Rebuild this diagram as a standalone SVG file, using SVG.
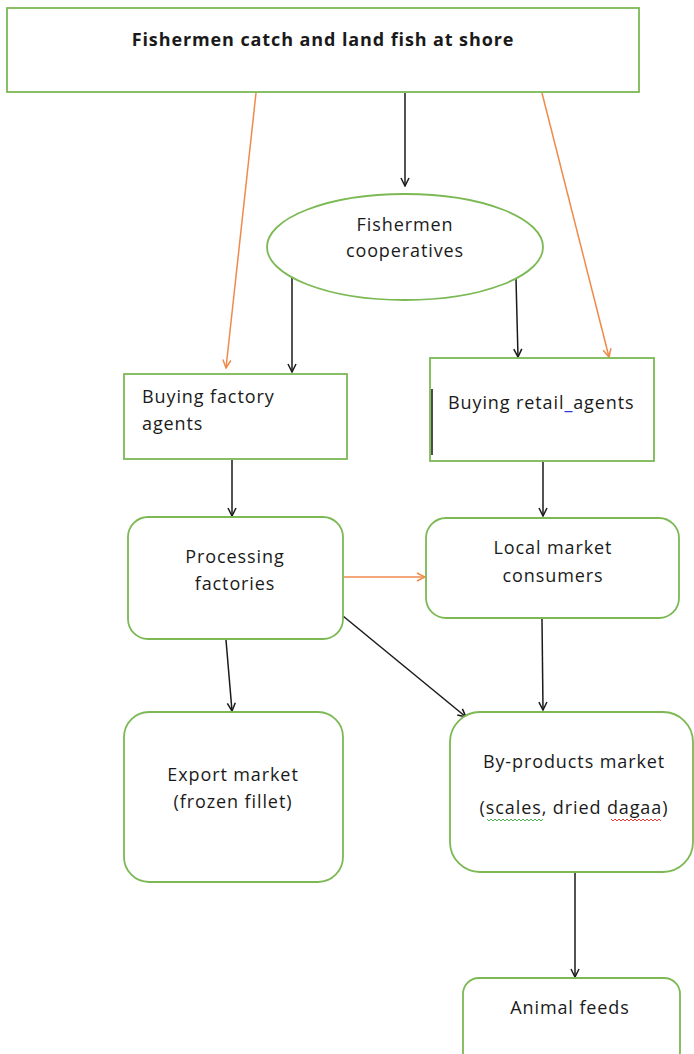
<svg xmlns="http://www.w3.org/2000/svg" width="694" height="1054" viewBox="0 0 694 1054">
<style>
.box{fill:#fff;stroke:#7cb955;stroke-width:1.8}
.t{font-family:"Open Sans","Liberation Sans",sans-serif;font-size:18px;letter-spacing:0.9px;fill:#1a1a1a}
.c{text-anchor:middle}
.blk{stroke:#1a1a1a;stroke-width:1.5;fill:none}
.org{stroke:#f08a4b;stroke-width:1.5;fill:none}
.sq{fill:none;stroke-width:1}
</style>
<defs>
<marker id="ab" markerWidth="10" markerHeight="10" refX="9" refY="5" orient="auto" markerUnits="userSpaceOnUse">
<path d="M1,1 L9,5 L1,9" fill="none" stroke="#1a1a1a" stroke-width="1.5"/>
</marker>
<marker id="ao" markerWidth="10" markerHeight="10" refX="9" refY="5" orient="auto" markerUnits="userSpaceOnUse">
<path d="M1,1 L9,5 L1,9" fill="none" stroke="#f08a4b" stroke-width="1.5"/>
</marker>
</defs>
<rect width="694" height="1054" fill="#fff"/>
<g id="connectors">
<line class="org" x1="256" y1="93" x2="226" y2="368" marker-end="url(#ao)"/>
<line class="blk" x1="405" y1="93" x2="405" y2="186" marker-end="url(#ab)"/>
<line class="org" x1="542" y1="93" x2="609" y2="357" marker-end="url(#ao)"/>
<line class="blk" x1="292" y1="277" x2="292" y2="372" marker-end="url(#ab)"/>
<line class="blk" x1="516" y1="279" x2="518" y2="357" marker-end="url(#ab)"/>
<line class="blk" x1="232" y1="460" x2="232" y2="516" marker-end="url(#ab)"/>
<line class="blk" x1="543" y1="462" x2="543" y2="516" marker-end="url(#ab)"/>
<line class="org" x1="344" y1="577" x2="425" y2="577" marker-end="url(#ao)"/>
<line class="blk" x1="226" y1="640" x2="232" y2="711" marker-end="url(#ab)"/>
<line class="blk" x1="343" y1="616" x2="466" y2="717" marker-end="url(#ab)"/>
<line class="blk" x1="542" y1="619" x2="543" y2="710" marker-end="url(#ab)"/>
<line class="blk" x1="575" y1="873" x2="575" y2="977" marker-end="url(#ab)"/>
</g>
<g id="n-shore">
<rect class="box" x="7" y="8" width="632" height="84"/>
<text class="t c" x="323" y="46" font-weight="bold" font-size="17" letter-spacing="0.7">Fishermen catch and land fish at shore</text>
</g>
<g id="n-coop">
<ellipse class="box" cx="405" cy="247" rx="138" ry="53"/>
<text class="t c" x="405" y="231">Fishermen</text>
<text class="t c" x="405" y="257">cooperatives</text>
</g>
<g id="n-factory-agents">
<rect class="box" x="124" y="374" width="223" height="85"/>
<text class="t" x="142" y="403">Buying factory</text>
<text class="t" x="142" y="430">agents</text>
</g>
<g id="n-retail-agents">
<rect class="box" x="430" y="358" width="224" height="103"/>
<line x1="432" y1="389" x2="432" y2="455" stroke="#111" stroke-width="1.5"/>
<text class="t" x="448" y="409">Buying retail<tspan fill="#2a3ad8">_</tspan>agents</text>
</g>
<g id="n-processing">
<rect class="box" x="128" y="517" width="215" height="122" rx="20"/>
<text class="t c" x="235" y="563">Processing</text>
<text class="t c" x="235" y="590">factories</text>
</g>
<g id="n-local">
<rect class="box" x="426" y="518" width="253" height="100" rx="20"/>
<text class="t c" x="553" y="554">Local market</text>
<text class="t c" x="553" y="582">consumers</text>
</g>
<g id="n-export">
<rect class="box" x="124" y="712" width="219" height="170" rx="25"/>
<text class="t c" x="233" y="781">Export market</text>
<text class="t c" x="233" y="808">(frozen fillet)</text>
</g>
<g id="n-byproducts">
<rect class="box" x="450" y="712" width="243" height="160" rx="30"/>
<text class="t c" x="574" y="768">By-products market</text>
<text class="t c" x="574" y="814">(scales, dried dagaa)</text>
<path class="sq" stroke="#4caf50" d="M487,819 l2,2 l2,-2 l2,2 l2,-2 l2,2 l2,-2 l2,2 l2,-2 l2,2 l2,-2 l2,2 l2,-2 l2,2 l2,-2 l2,2 l2,-2 l2,2 l2,-2 l2,2 l2,-2 l2,2 l2,-2 l2,2 l2,-2 l2,2 l2,-2 l2,2 l2,-2"/>
<path class="sq" stroke="#e53935" d="M611,819 l2,2 l2,-2 l2,2 l2,-2 l2,2 l2,-2 l2,2 l2,-2 l2,2 l2,-2 l2,2 l2,-2 l2,2 l2,-2 l2,2 l2,-2 l2,2 l2,-2 l2,2 l2,-2 l2,2 l2,-2 l2,2 l2,-2 l2,2"/>
</g>
<g id="n-feeds">
<rect class="box" x="463" y="978" width="217" height="90" rx="16"/>
<text class="t c" x="570" y="1014">Animal feeds</text>
</g>
</svg>
